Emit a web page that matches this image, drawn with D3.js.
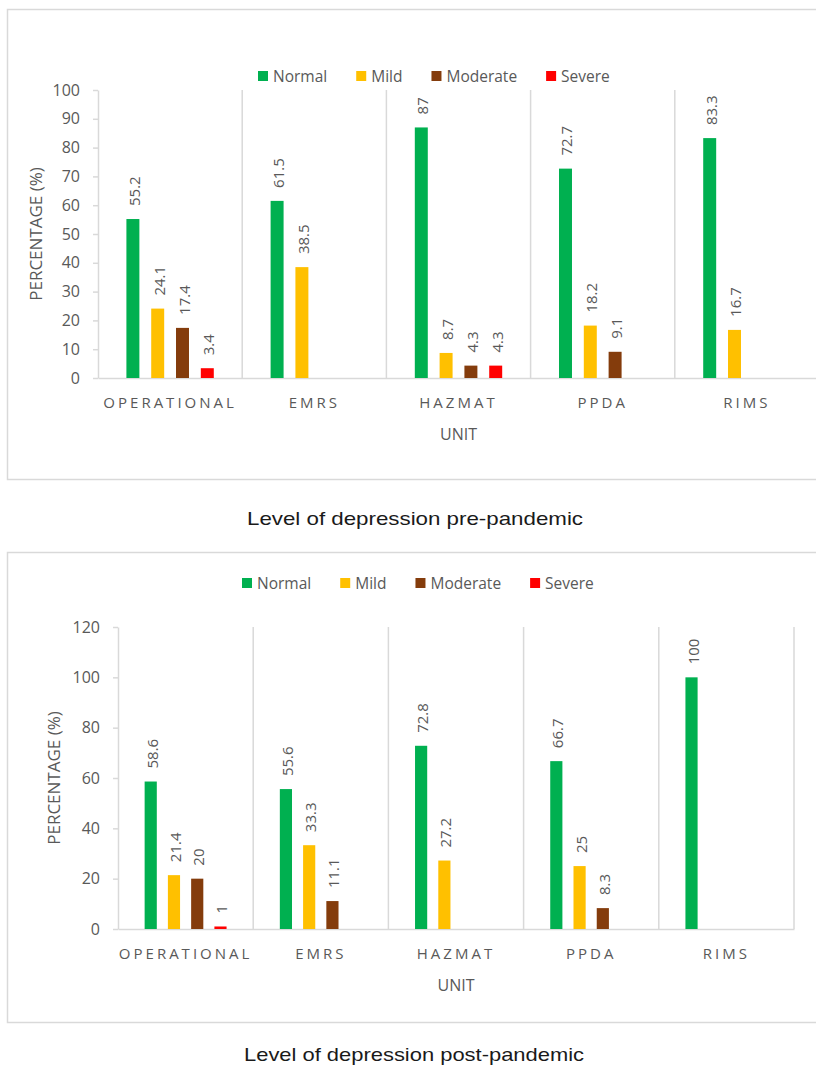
<!DOCTYPE html>
<html>
<head>
<meta charset="utf-8">
<script src="https://cdn.jsdelivr.net/npm/d3@7"></script>
<style>
  html, body { margin: 0; padding: 0; background: #ffffff; }
  svg { display: block; }
  text { font-family: "Open Sans", "Noto Sans", sans-serif; }
</style>
</head>
<body>
<svg id="fig" width="816" height="1068"></svg>
<script>
// Units and depression levels
const categories = ["OPERATIONAL", "EMRS", "HAZMAT", "PPDA", "RIMS"];
const seriesNames = ["Normal", "Mild", "Moderate", "Severe"];
const seriesColors = ["#00B050", "#FFC000", "#843C0C", "#FF0000"];

// Pre-pandemic percentages (null = no respondents in that level)
const preNormal   = [55.2, 61.5, 87,   72.7, 83.3];
const preMild     = [24.1, 38.5, 8.7,  18.2, 16.7];
const preModerate = [17.4, null, 4.3,  9.1,  null];
const preSevere   = [3.4,  null, 4.3,  null, null];
const preTicks    = [0, 10, 20, 30, 40, 50, 60, 70, 80, 90, 100];

// Post-pandemic percentages
const postNormal   = [58.6, 55.6, 72.8, 66.7, 100];
const postMild     = [21.4, 33.3, 27.2, 25,   null];
const postModerate = [20,   11.1, null, 8.3,  null];
const postSevere   = [1,    null, null, null, null];
const postTicks    = [0, 20, 40, 60, 80, 100, 120];

const TEXT = "#595959";
const RULE = "#D9D9D9";
const svg = d3.select("#fig");

function drawPanel(opt) {
  const { box, plot, ticks, series, legend, caption } = opt;

  // outer chart frame
  svg.append("rect")
    .attr("x", box.x + 0.5).attr("y", box.y + 0.5)
    .attr("width", box.w).attr("height", box.h)
    .attr("fill", "#fff").attr("stroke", RULE).attr("stroke-width", 1.5);

  const g = svg.append("g");
  const x = d3.scaleBand().domain(categories).range([plot.left, plot.right]);
  const y = d3.scaleLinear().domain([0, d3.max(ticks)]).range([plot.bottom, plot.top]);

  // bars inside each unit: narrow bars at a fixed pitch
  const pitch = x.bandwidth() * 0.172;
  const pin = 1 - 0.09 / 0.172;
  const x1 = d3.scaleBand().domain(seriesNames)
    .range([-2 * pitch, 2 * pitch]).paddingInner(pin).paddingOuter(pin / 2);

  // vertical separators between units
  g.append("g").selectAll("line")
    .data(categories.slice(1).map(c => x(c)).concat([plot.right]))
    .join("line")
    .attr("x1", d => d).attr("x2", d => d)
    .attr("y1", y(d3.max(ticks))).attr("y2", y(0))
    .attr("stroke", RULE).attr("stroke-width", 1.5);

  // y axis
  const ya = g.append("g").attr("transform", `translate(${plot.left},0)`)
    .call(d3.axisLeft(y).tickValues(ticks).tickSize(5).tickSizeOuter(0).tickPadding(13));
  ya.select(".domain").attr("stroke", RULE).attr("stroke-width", 1.5);
  ya.selectAll(".tick line").attr("stroke", RULE).attr("stroke-width", 1.5);
  ya.selectAll(".tick text").attr("fill", TEXT).style("font-size", "16px")
    .style("font-family", "'Open Sans', sans-serif");

  // x axis (baseline + unit names)
  const xa = g.append("g").attr("transform", `translate(0,${plot.bottom})`)
    .call(d3.axisBottom(x).tickSize(0).tickPadding(19));
  xa.select(".domain").attr("stroke", RULE).attr("stroke-width", 1.5);
  xa.selectAll(".tick text").attr("fill", TEXT).style("font-size", "15px")
    .style("letter-spacing", "3px")
    .style("font-family", "'Open Sans', sans-serif");

  // bars + value labels
  series.forEach((vals, si) => {
    const name = seriesNames[si];
    const pts = vals.map((v, i) => ({ c: categories[i], v })).filter(d => d.v != null);
    g.append("g").selectAll("rect").data(pts).join("rect")
      .attr("x", d => x(d.c) + x.bandwidth() / 2 + x1(name))
      .attr("width", x1.bandwidth())
      .attr("y", d => y(d.v))
      .attr("height", d => y(0) - y(d.v))
      .attr("fill", seriesColors[si]);
    g.append("g").selectAll("text").data(pts).join("text")
      .attr("transform", d => {
        const cx = x(d.c) + x.bandwidth() / 2 + x1(name) + x1.bandwidth() / 2;
        return `translate(${cx + 1},${y(d.v) - 13}) rotate(-90)`;
      })
      .attr("dominant-baseline", "central")
      .attr("fill", TEXT).style("font-size", "15px")
      .text(d => d.v);
  });

  // axis titles
  g.append("text")
    .attr("transform", `translate(${plot.left - plot.yTitleGap},${(plot.top + plot.bottom) / 2}) rotate(-90)`)
    .attr("text-anchor", "middle").attr("dominant-baseline", "central")
    .attr("fill", TEXT).style("font-size", "17px")
    .text("PERCENTAGE (%)");
  g.append("text")
    .attr("x", (plot.left + plot.right) / 2).attr("y", plot.bottom + 62)
    .attr("text-anchor", "middle")
    .attr("fill", TEXT).style("font-size", "16px")
    .text("UNIT");

  // legend
  const lg = svg.append("g").attr("transform", `translate(${legend.x},${legend.y})`);
  let cursor = 0;
  seriesNames.forEach((s, i) => {
    const item = lg.append("g").attr("transform", `translate(${cursor},0)`);
    item.append("rect").attr("x", 0).attr("y", -5).attr("width", 10).attr("height", 10)
      .attr("fill", seriesColors[i]);
    const t = item.append("text").attr("x", 15).attr("y", 0)
      .attr("dominant-baseline", "central")
      .attr("fill", TEXT).style("font-size", "15.5px").text(s);
    cursor += 15 + t.node().getComputedTextLength() + 29;
  });

  // caption below the frame
  svg.append("text")
    .attr("x", caption.x).attr("y", caption.y)
    .attr("text-anchor", "middle")
    .attr("textLength", caption.len).attr("lengthAdjust", "spacingAndGlyphs")
    .attr("fill", "#1a1a1a")
    .style("font-family", "'Liberation Sans', Arial, sans-serif")
    .style("font-size", "18.5px")
    .text(caption.text);
}

drawPanel({
  box: { x: 7, y: 9, w: 860, h: 470 },
  plot: { left: 98, right: 819, top: 90, bottom: 378, yTitleGap: 63 },
  ticks: preTicks,
  series: [preNormal, preMild, preModerate, preSevere],
  legend: { x: 258, y: 76 },
  caption: { x: 415, y: 525, len: 336, text: "Level of depression pre-pandemic" }
});

drawPanel({
  box: { x: 7, y: 552, w: 822, h: 470 },
  plot: { left: 118, right: 794, top: 627, bottom: 929, yTitleGap: 65 },
  ticks: postTicks,
  series: [postNormal, postMild, postModerate, postSevere],
  legend: { x: 242, y: 583 },
  caption: { x: 414, y: 1061, len: 340, text: "Level of depression post-pandemic" }
});
</script>
</body>
</html>
